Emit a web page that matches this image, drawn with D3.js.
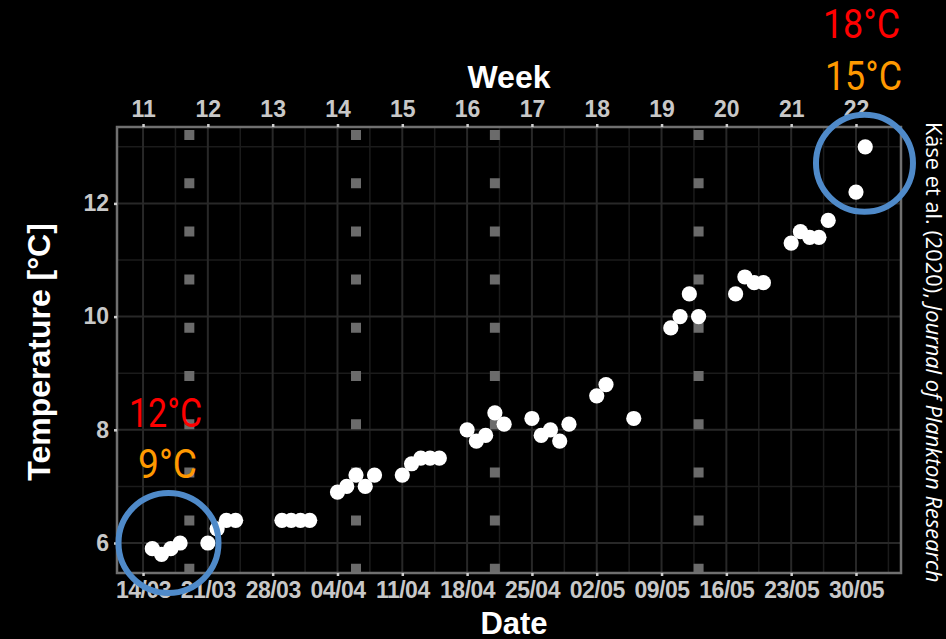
<!DOCTYPE html>
<html>
<head>
<meta charset="utf-8">
<script src="https://cdn.jsdelivr.net/npm/d3@7"></script>
<style>
  html, body { margin:0; padding:0; background:#000; }
  svg { display:block; }
</style>
</head>
<body>
<svg id="chart" width="946" height="639"></svg>
<script>
// ---------- data ----------
const obsDates = ["2019-03-15","2019-03-16","2019-03-17","2019-03-18","2019-03-21","2019-03-22","2019-03-23","2019-03-24",
  "2019-03-29","2019-03-30","2019-03-31","2019-04-01","2019-04-04","2019-04-05","2019-04-06","2019-04-07","2019-04-08",
  "2019-04-11","2019-04-12","2019-04-13","2019-04-14","2019-04-15","2019-04-18","2019-04-19","2019-04-20","2019-04-21","2019-04-22",
  "2019-04-25","2019-04-26","2019-04-27","2019-04-28","2019-04-29","2019-05-02","2019-05-03","2019-05-06",
  "2019-05-10","2019-05-11","2019-05-12","2019-05-13","2019-05-17","2019-05-18","2019-05-19","2019-05-20",
  "2019-05-23","2019-05-24","2019-05-25","2019-05-26","2019-05-27","2019-05-30","2019-05-31"];
const temperatures = [5.9,5.8,5.9,6.0,6.0,6.25,6.4,6.4,
  6.4,6.4,6.4,6.4,6.9,7.0,7.2,7.0,7.2,
  7.2,7.4,7.5,7.5,7.5,8.0,7.8,7.9,8.3,8.1,
  8.2,7.9,8.0,7.8,8.1,8.6,8.8,8.2,
  9.8,10.0,10.4,10.0,10.4,10.7,10.6,10.6,
  11.3,11.5,11.4,11.4,11.7,12.2,13.0];
const dateTicks = ["2019-03-14","2019-03-21","2019-03-28","2019-04-04","2019-04-11","2019-04-18","2019-04-25",
  "2019-05-02","2019-05-09","2019-05-16","2019-05-23","2019-05-30"];
const weekLabels = ["11","12","13","14","15","16","17","18","19","20","21","22"];
const tempTicks = [6, 8, 10, 12];
const tempMinor = [7, 9, 11, 13];
const samplingDates = ["2019-03-19","2019-04-06","2019-04-21","2019-05-13"];
const xDomain = ["2019-03-11T04:30","2019-06-03T20:40"];
const yDomain = [5.47, 13.35];
// annotations: centre date, centre temperature, upper label, lower label
const highlightDates = ["2019-03-16T18:00","2019-05-30T22:00"];
const highlightTemps = [6.0, 12.71];
const highlightHigh = ["12°C","18°C"];
const highlightLow = ["9°C","15°C"];
const sourceText = "Käse et al. (2020), ";
const sourceJournal = "Journal of Plankton Research";

// ---------- layout ----------
const W = 946, H = 639;
const margin = {left:117, top:127, right:45, bottom:66};
const iw = W - margin.left - margin.right, ih = H - margin.top - margin.bottom;
const parse = s => new Date(s.length > 10 ? s : s + "T00:00");

const svg = d3.select("#chart");
svg.append("rect").attr("width", W).attr("height", H).attr("fill", "#000");
const g = svg.append("g").attr("transform", `translate(${margin.left},${margin.top})`);

const x = d3.scaleTime().domain(xDomain.map(parse)).range([0, iw]);
const y = d3.scaleLinear().domain(yDomain).range([ih, 0]);

const tickDates = dateTicks.map(parse);
const minorDates = tickDates.slice(0, -1).map(d => new Date(+d + 3.5*864e5));
minorDates.unshift(new Date(+tickDates[0] - 3.5*864e5));
minorDates.push(new Date(+tickDates[tickDates.length-1] + 3.5*864e5));

// grid
g.append("g").selectAll("line").data(minorDates.filter(d => d >= x.domain()[0] && d <= x.domain()[1]))
  .join("line").attr("x1", d => x(d)).attr("x2", d => x(d)).attr("y1", 0).attr("y2", ih)
  .attr("stroke", "#1b1b1b").attr("stroke-width", 1.5);
g.append("g").selectAll("line").data(tempMinor)
  .join("line").attr("x1", 0).attr("x2", iw).attr("y1", d => y(d)).attr("y2", d => y(d))
  .attr("stroke", "#1b1b1b").attr("stroke-width", 1.5);
g.append("g").selectAll("line").data(tickDates)
  .join("line").attr("x1", d => x(d)).attr("x2", d => x(d)).attr("y1", 0).attr("y2", ih)
  .attr("stroke", "#282828").attr("stroke-width", 2);
g.append("g").selectAll("line").data(tempTicks)
  .join("line").attr("x1", 0).attr("x2", iw).attr("y1", d => y(d)).attr("y2", d => y(d))
  .attr("stroke", "#282828").attr("stroke-width", 2);

// sampling days (grey square dashes)
g.append("g").selectAll("line").data(samplingDates.map(parse))
  .join("line").attr("x1", d => x(d)).attr("x2", d => x(d)).attr("y1", 3).attr("y2", ih + 1)
  .attr("stroke", "#6b6b6b").attr("stroke-width", 10).attr("stroke-dasharray", "10 38.2");

// border
g.append("rect").attr("width", iw).attr("height", ih).attr("fill", "none")
  .attr("stroke", "#707070").attr("stroke-width", 2.5);

// axes
const tickFont = "'Liberation Sans', Arial, sans-serif";
function styleAxis(sel) {
  sel.select(".domain").remove();
  sel.selectAll(".tick line").attr("stroke", "#cfcfcf").attr("stroke-width", 2.5);
  sel.selectAll(".tick text").attr("fill", "#c8c8c8").attr("font-family", tickFont)
     .attr("font-weight", "bold").attr("font-size", 23);
}
const fmt = d3.timeFormat("%d/%m");
const xb = g.append("g").attr("transform", `translate(0,${ih})`)
  .call(d3.axisBottom(x).tickValues(tickDates).tickFormat(fmt).tickSize(3).tickPadding(6));
styleAxis(xb);
xb.selectAll(".tick text").attr("letter-spacing", -0.5);
const xt = g.append("g")
  .call(d3.axisTop(x).tickValues(tickDates).tickFormat((d, i) => weekLabels[i]).tickSize(3).tickPadding(7));
styleAxis(xt);
const yl = g.append("g")
  .call(d3.axisLeft(y).tickValues(tempTicks).tickFormat(d3.format("d")).tickSize(3).tickPadding(5));
styleAxis(yl);

// axis titles
const titleFont = "'Liberation Sans', Arial, sans-serif";
svg.append("text").text("Week").attr("x", margin.left + iw/2 + 0).attr("y", 88)
  .attr("text-anchor", "middle").attr("fill", "#fff").attr("font-family", titleFont)
  .attr("font-weight", "bold").attr("font-size", 32);
svg.append("text").text("Date").attr("x", margin.left + iw/2 + 5).attr("y", 634)
  .attr("text-anchor", "middle").attr("fill", "#fff").attr("font-family", titleFont)
  .attr("font-weight", "bold").attr("font-size", 31);
svg.append("text").text("Temperature [°C]")
  .attr("transform", `translate(50,${margin.top + ih/2 + 2}) rotate(-90)`)
  .attr("text-anchor", "middle").attr("fill", "#fff").attr("font-family", titleFont)
  .attr("font-weight", "bold").attr("font-size", 32);

// points
g.append("g").selectAll("circle").data(obsDates.map((d, i) => ({d: parse(d), t: temperatures[i]})))
  .join("circle").attr("cx", p => x(p.d)).attr("cy", p => y(p.t)).attr("r", 7.6)
  .attr("fill", "#fff");

// highlight circles and labels
const hl = highlightDates.map((d, i) => ({cx: x(parse(d)) + margin.left, cy: y(highlightTemps[i]) + margin.top,
  hi: highlightHigh[i], lo: highlightLow[i]}));
const hlR = [50, 48.5];
svg.append("g").selectAll("circle").data(hl).join("circle")
  .attr("cx", d => d.cx).attr("cy", d => d.cy).attr("r", (d, i) => hlR[i])
  .attr("fill", "none").attr("stroke", "#4f8ac9").attr("stroke-width", 6);
// label offsets above each circle (baselines)
const hiOffset = [-116, -125], loOffset = [-65, -73];
const annFont = "Roboto, 'Open Sans', sans-serif";
hl.forEach((d, i) => {
  svg.append("text").text(d.hi).attr("x", d.cx - 3).attr("y", d.cy + hiOffset[i])
    .attr("text-anchor", "middle").attr("fill", "#ff0000").attr("font-family", annFont)
    .attr("font-size", 40).attr("textLength", i === 0 ? 73 : 77).attr("lengthAdjust", "spacingAndGlyphs");
  svg.append("text").text(d.lo).attr("x", d.cx - 1).attr("y", d.cy + loOffset[i])
    .attr("text-anchor", "middle").attr("fill", "#ff9900").attr("font-family", annFont)
    .attr("font-size", 40).attr("textLength", i === 0 ? 59 : 77).attr("lengthAdjust", "spacingAndGlyphs");
});

// source text (rotated)
const src = svg.append("text").attr("transform", "translate(926,122) rotate(90)")
  .attr("fill", "#fff").attr("font-family", "'Open Sans', sans-serif").attr("font-size", 21.8);
src.append("tspan").text(sourceText);
src.append("tspan").text(sourceJournal).attr("font-style", "italic");
</script>
</body>
</html>
